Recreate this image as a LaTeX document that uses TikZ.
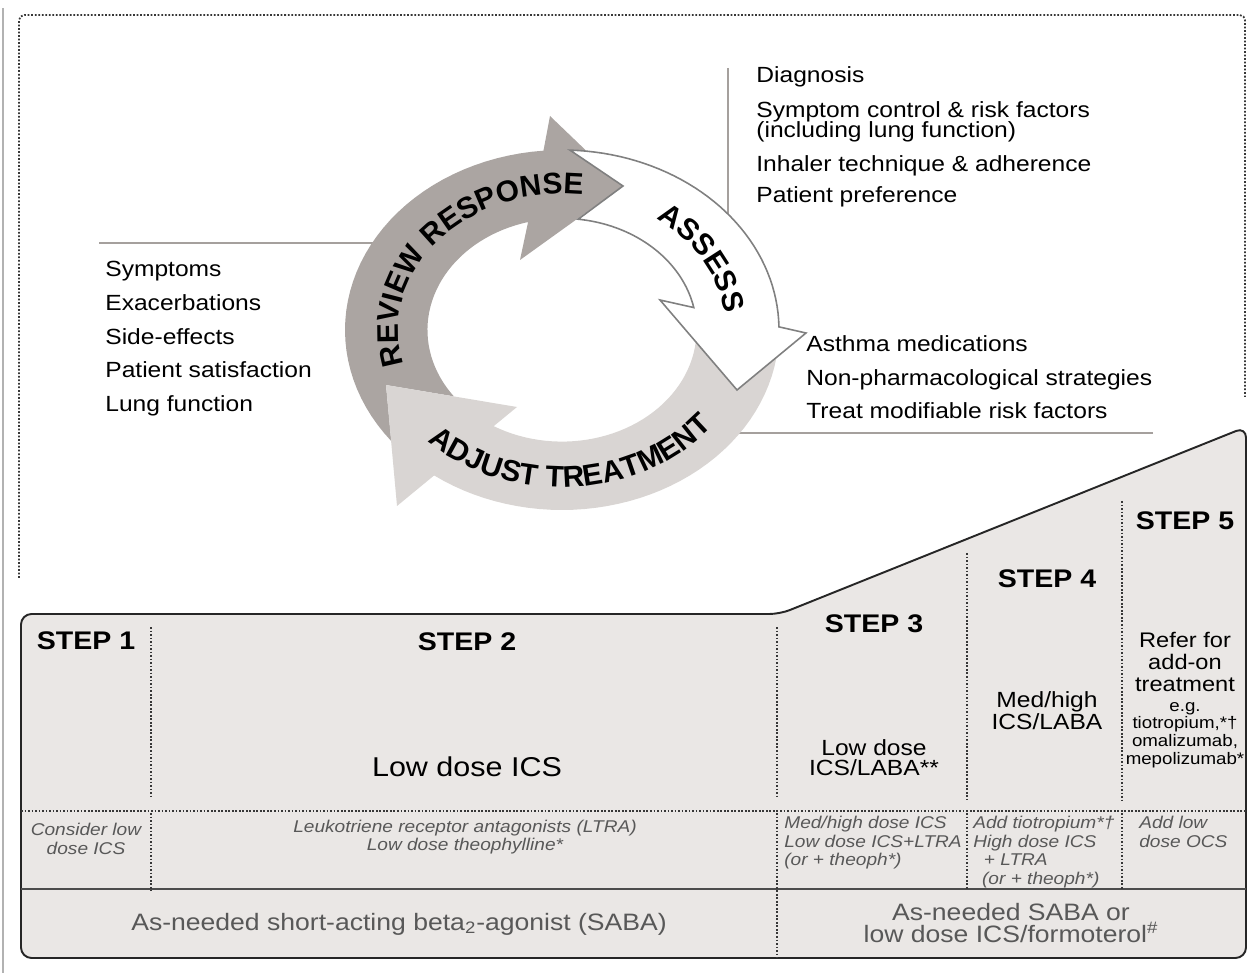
\documentclass[tikz,border=0pt]{standalone}
\usepackage{fontspec}
\setmainfont{Liberation Sans}[FakeStretch=1.12]
\newfontfamily\cycfont{Liberation Sans}[FakeStretch=1.0]
\usepackage{tikz}
\usetikzlibrary{decorations.text}
\definecolor{boxgray}{RGB}{234,231,229}
\definecolor{revgray}{RGB}{171,165,162}
\definecolor{adjgray}{RGB}{217,213,211}
\definecolor{linegray}{RGB}{165,160,157}
\definecolor{textgray}{RGB}{88,88,88}
\definecolor{dotgray}{RGB}{55,55,55}
\tikzset{
  dotline/.style={draw=dotgray, line width=1pt, dash pattern=on 1pt off 1pt},
  listline/.style={draw=linegray, line width=1.2pt},
  listitem/.style={anchor=base west, inner sep=0pt, font=\fontsize{12.5}{13}\selectfont},
  stepname/.style={inner sep=0pt, font=\bfseries\fontsize{14.5}{15}\selectfont},
  drug/.style={inner sep=0pt, align=center, font=\fontsize{12.5}{12.5}\selectfont},
  option/.style={inner sep=0pt, font=\itshape\fontsize{9.7}{10.5}\selectfont, text=textgray},
  reliever/.style={inner sep=0pt, align=center, font=\fontsize{13.5}{12.5}\selectfont, text=textgray},
  cyclabel/.style={decorate, decoration={text along path, text align=center,
      text={|\cycfont\bfseries\fontsize{17}{17}\selectfont|#1}}},
  declare function={ex(\p,\q)=562+\q*217*cos(\p); ey(\p,\q)=330+\q*180*sin(\p);}
}
% one arrow of the cycle: outer and inner tail angle, outer and inner end angle,
% name of its head, name of the head before it, options
\newcommand{\cycarrow}[7]{%
  \path[#7] ({ex(#1,1)},{ey(#1,1)}) -- plot[domain=#1:#3, samples=40] ({ex(\x,1)},{ey(\x,1)})
    -- (#5barbout) -- (#5tip) -- (#5barbin)
    -- plot[domain=#4:#2, samples=40] ({ex(\x,0.62)},{ey(\x,0.62)})
    -- (#6tip) -- cycle;}

\begin{document}
\begin{tikzpicture}[x=0.02cm, y=-0.02cm]
    \useasboundingbox (0,0) rectangle (1249,973);

    % frame
    \draw[gray!60, line width=0.6pt] (3,8) -- (3,973);
    \draw[dotline, rounded corners=3pt] (19,578) -- (19,15) -- (1245,15) -- (1245,397);

    % lists round the cycle
    \node[listitem] (sympt) at (105,277) {Symptoms};
    \node[listitem] (exac) at (105,311) {Exacerbations};
    \node[listitem] (side) at (105,345) {Side-effects};
    \node[listitem] (satis) at (105,378) {Patient satisfaction};
    \node[listitem] (lung) at (105,412) {Lung function};

    \node[listitem] (diag) at (756,83) {Diagnosis};
    \node[listitem] (symctl) at (756,118) {Symptom control \& risk factors};
    \node[listitem] (incl) at (756,138) {(including lung function)};
    \node[listitem] (inhal) at (756,172) {Inhaler technique \& adherence};
    \node[listitem] (pref) at (756,203) {Patient preference};

    \node[listitem] (meds) at (806,352) {Asthma medications};
    \node[listitem] (nonph) at (806,386) {Non-pharmacological strategies};
    \node[listitem] (modif) at (806,419) {Treat modifiable risk factors};

    \coordinate (revend) at (99,243);
    \coordinate (revedge) at (380,243);
    \coordinate (assend) at (728,68);
    \coordinate (assedge) at (728,222);
    \coordinate (adjend) at (1153,433);
    \coordinate (adjedge) at (735,433);
    \draw[listline] (revend) -- (revedge);
    \draw[listline] (assend) -- (assedge);
    \draw[listline] (adjend) -- (adjedge);

    % the cycle
    \coordinate (revbarbout) at (550,116);
    \coordinate (revtip) at (623,186);
    \coordinate (revbarbin) at (520,260);
    \coordinate (assbarbout) at (806,333);
    \coordinate (asstip) at (737,390);
    \coordinate (assbarbin) at (660,300);
    \coordinate (adjbarbout) at (397,506);
    \coordinate (adjtip) at (386,385);
    \coordinate (adjbarbin) at (517,407);
    \cycarrow{141.9}{143.5}{265.1}{255.4}{rev}{adj}{fill=revgray}
    \cycarrow{8.8}{6.1}{126.1}{120.5}{adj}{ass}{fill=adjgray}
    \cycarrow{272.1}{276.9}{359}{348.4}{ass}{rev}{fill=white, draw=gray, line width=0.9pt}
    \path[cyclabel=REVIEW RESPONSE] plot[domain=145:295, samples=60] ({ex(\x,0.755)},{ey(\x,0.755)});
    \path[cyclabel=ASSESS] plot[domain=-66:6, samples=40] ({ex(\x,0.755)},{ey(\x,0.755)});
    \path[cyclabel=ADJUST TREATMENT] plot[domain=155:17, samples=60] ({ex(\x,0.875)},{ey(\x,0.875)});

    % the steps
    \draw[draw=black!85, line width=1.1pt, fill=boxgray, rounded corners=6pt]
        (21,614) -- (780,614) -- (1246,427) -- (1246,958) -- (21,958) -- cycle;
    \draw[dotline] (21,811) -- (1246,811);
    \draw[black!70, line width=0.8pt] (21,889) -- (1246,889);
    \draw[dotline] (151,627) -- (151,797);
    \draw[dotline] (151,813) -- (151,891);
    \draw[dotline] (777,627) -- (777,797);
    \draw[dotline] (777,813) -- (777,958);
    \draw[dotline] (967,553) -- (967,800);
    \draw[dotline] (967,813) -- (967,889);
    \draw[dotline] (1122,501) -- (1122,800);
    \draw[dotline] (1122,813) -- (1122,889);

    \node[stepname] (step1) at (86,641) {STEP 1};
    \node[stepname] (step2) at (467,642) {STEP 2};
    \node[stepname] (step3) at (874,624) {STEP 3};
    \node[stepname] (step4) at (1047,579) {STEP 4};
    \node[stepname] (step5) at (1185,521) {STEP 5};

    \node[drug, font=\fontsize{15.5}{16}\selectfont] (ics) at (467,767) {Low dose ICS};
    \node[drug, font=\fontsize{12.5}{11.5}\selectfont] (laba) at (874,758) {Low dose\\ICS/LABA**};
    \node[drug] (medlaba) at (1047,711) {Med/high\\ICS/LABA};
    \node[drug, font=\fontsize{12}{12.5}\selectfont] (refer) at (1185,662) {Refer for\\add-on\\treatment};
    \node[drug, font=\fontsize{9.5}{10}\selectfont] (eg) at (1185,735) {e.g.\\tiotropium,*†\\omalizumab,\\mepolizumab*};

    % other controller options
    \node[option, align=center] (consider) at (86,839) {Consider low\\dose ICS};
    \node[option, align=center] (ltra) at (465,837) {Leukotriene receptor antagonists (LTRA)\\Low dose theophylline*};
    \node[option, align=left, anchor=north west] (medhigh) at (784,816)
        {Med/high dose ICS\\Low dose ICS+LTRA\\(or + theoph*)};
    \node[option, align=left, anchor=north west] (addtio) at (973,816)
        {Add tiotropium*†\\High dose ICS\\\hspace*{6pt}+ LTRA\\\hspace*{5pt}(or + theoph*)};
    \node[option, align=left, anchor=north west] (ocs) at (1139,816) {Add low\\dose OCS};

    % relievers
    \node[reliever] (saba) at (399,924) {As-needed short-acting beta\textsubscript{2}-agonist (SABA)};
    \node[reliever] (formo) at (1011,923) {As-needed SABA or\\low dose ICS/formoterol\textsuperscript{\#}};
\end{tikzpicture}
\end{document}
